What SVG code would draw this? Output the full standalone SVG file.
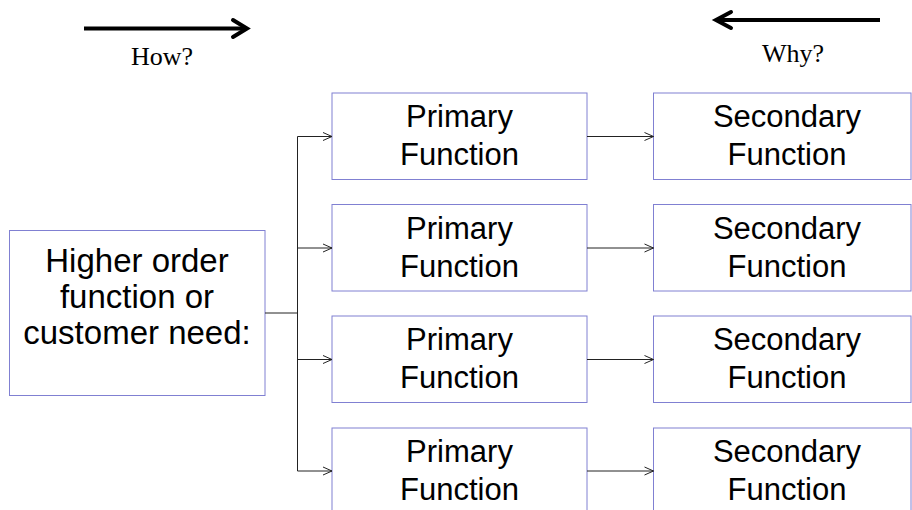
<svg xmlns="http://www.w3.org/2000/svg" width="912" height="510" viewBox="0 0 912 510">
  <style>
    .box { fill: #ffffff; stroke: #8080d2; stroke-width: 1; }
    .lbl { font-family: "Liberation Sans", Arial, sans-serif; font-size: 31px; fill: #000000; text-anchor: middle; }
    .big { font-size: 33px; }
    .cap { font-family: "Liberation Serif", "Times New Roman", serif; font-size: 26px; fill: #000000; text-anchor: middle; }
    .wire { fill: none; stroke: #222222; stroke-width: 1; }
    .bold { fill: none; stroke: #000000; stroke-width: 4; stroke-linecap: butt; }
    .head { fill: none; stroke: #000000; stroke-width: 4; stroke-linecap: round; stroke-linejoin: miter; }
  </style>
  <defs>
    <marker id="open" viewBox="0 0 10 10" refX="10" refY="5" markerWidth="10" markerHeight="10" markerUnits="userSpaceOnUse" orient="auto">
      <path d="M1,1 L10,5 L1,9" fill="none" stroke="#222222" stroke-width="1"/>
    </marker>
  </defs>

  <!-- direction arrows -->
  <g id="how">
    <line class="bold" x1="84" y1="28.5" x2="246" y2="28.5"/>
    <path class="head" d="M233,20 L247,28.5 L233,37"/>
    <text class="cap" x="162" y="65">How?</text>
  </g>
  <g id="why">
    <line class="bold" x1="880" y1="20" x2="717" y2="20"/>
    <path class="head" d="M731,12 L716,20 L731,28"/>
    <text class="cap" x="793" y="62">Why?</text>
  </g>

  <!-- root node -->
  <g id="need">
    <rect class="box" x="9.5" y="230.5" width="255.5" height="165"/>
    <text class="lbl big" x="137" y="272">Higher order</text>
    <text class="lbl big" x="137" y="308">function or</text>
    <text class="lbl big" x="137" y="344">customer need:</text>
  </g>

  <!-- primary functions -->
  <g id="primary1">
    <rect class="box" x="332" y="93" width="255" height="86.5"/>
    <text class="lbl" x="459.5" y="127">Primary</text>
    <text class="lbl" x="459.5" y="165">Function</text>
  </g>
  <g id="primary2">
    <rect class="box" x="332" y="204.5" width="255" height="86.5"/>
    <text class="lbl" x="459.5" y="238.5">Primary</text>
    <text class="lbl" x="459.5" y="276.5">Function</text>
  </g>
  <g id="primary3">
    <rect class="box" x="332" y="316" width="255" height="86.5"/>
    <text class="lbl" x="459.5" y="350">Primary</text>
    <text class="lbl" x="459.5" y="388">Function</text>
  </g>
  <g id="primary4">
    <rect class="box" x="332" y="428" width="255" height="86.5"/>
    <text class="lbl" x="459.5" y="462">Primary</text>
    <text class="lbl" x="459.5" y="500">Function</text>
  </g>

  <!-- secondary functions -->
  <g id="secondary1">
    <rect class="box" x="653.5" y="93" width="257.5" height="86.5"/>
    <text class="lbl" x="787" y="127">Secondary</text>
    <text class="lbl" x="787" y="165">Function</text>
  </g>
  <g id="secondary2">
    <rect class="box" x="653.5" y="204.5" width="257.5" height="86.5"/>
    <text class="lbl" x="787" y="238.5">Secondary</text>
    <text class="lbl" x="787" y="276.5">Function</text>
  </g>
  <g id="secondary3">
    <rect class="box" x="653.5" y="316" width="257.5" height="86.5"/>
    <text class="lbl" x="787" y="350">Secondary</text>
    <text class="lbl" x="787" y="388">Function</text>
  </g>
  <g id="secondary4">
    <rect class="box" x="653.5" y="428" width="257.5" height="86.5"/>
    <text class="lbl" x="787" y="462">Secondary</text>
    <text class="lbl" x="787" y="500">Function</text>
  </g>

  <!-- connectors -->
  <g id="connectors">
    <line class="wire" x1="265" y1="313" x2="297.5" y2="313"/>
    <line class="wire" x1="297.5" y1="136.5" x2="297.5" y2="471"/>
    <line class="wire" x1="297.5" y1="136.5" x2="332" y2="136.5" marker-end="url(#open)"/>
    <line class="wire" x1="297.5" y1="248" x2="332" y2="248" marker-end="url(#open)"/>
    <line class="wire" x1="297.5" y1="359.5" x2="332" y2="359.5" marker-end="url(#open)"/>
    <line class="wire" x1="297.5" y1="471" x2="332" y2="471" marker-end="url(#open)"/>
    <line class="wire" x1="587" y1="136.5" x2="653.5" y2="136.5" marker-end="url(#open)"/>
    <line class="wire" x1="587" y1="248" x2="653.5" y2="248" marker-end="url(#open)"/>
    <line class="wire" x1="587" y1="359.5" x2="653.5" y2="359.5" marker-end="url(#open)"/>
    <line class="wire" x1="587" y1="471" x2="653.5" y2="471" marker-end="url(#open)"/>
  </g>
</svg>
